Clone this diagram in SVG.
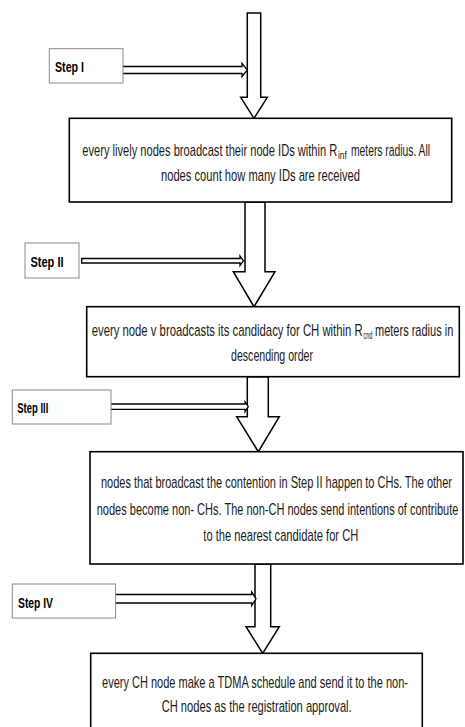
<svg xmlns="http://www.w3.org/2000/svg" width="465" height="727" viewBox="0 0 465 727">
<style>
.box{fill:#fff;stroke:#000;stroke-width:1.6}
.sbox{fill:#fff;stroke:#8a8a8a;stroke-width:1}
.big{fill:#fff;stroke:#000;stroke-width:1.5;stroke-linejoin:miter}
.small{fill:#fff;stroke:#000;stroke-width:1.3}
.t{font-family:"Liberation Sans",Arial,sans-serif;font-size:16px;fill:#1a1a1a}
.s{font-family:"Liberation Sans",Arial,sans-serif;font-size:14px;font-weight:bold;fill:#000}
.sub{font-family:"Liberation Sans",Arial,sans-serif;font-size:10px;fill:#1a1a1a}
</style>
<rect width="465" height="727" fill="#fff"/>
<g id="connectors">
<polygon class="big" points="247.3,13 260.7,13 260.7,97.3 267.3,97.3 254,118.3 240.7,97.3 247.3,97.3"/>
<polygon class="big" points="245,202 265,202 265,271.7 275,271.7 254,306.7 233.3,271.7 245,271.7"/>
<polygon class="big" points="247.3,376.7 268.3,376.7 268.3,416.7 279.3,416.7 258.3,451.7 236.7,416.7 247.3,416.7"/>
<polygon class="big" points="255,564 270.7,564 270.7,626.7 279.3,626.7 262.7,653.3 246,626.7 255,626.7"/>
<polygon class="small" points="86,66.5 242,66.5 242,63.3 247.3,70 242,76.7 242,73.5 86,73.5"/>
<polygon class="small" points="81.7,258.5 240,258.5 240,256 243.5,260.8 240,265.5 240,263 81.7,263"/>
<polygon class="small" points="81.7,404 245,404 245,401.7 248.3,406.7 245,411.7 245,409.3 81.7,409.3"/>
<polygon class="small" points="73.3,594.5 251.7,594.5 251.7,592 256,598.8 251.7,605.5 251.7,603 73.3,603"/>
</g>
<g id="step1">
<rect class="sbox" x="49.3" y="48.7" width="73.7" height="34.3"/>
<text class="s" transform="translate(55,72) scale(0.75,1)" textLength="38.7" lengthAdjust="spacingAndGlyphs">Step I</text>
</g>
<g id="step2">
<rect class="sbox" x="25" y="243" width="54" height="35"/>
<text class="s" transform="translate(30.5,267) scale(0.75,1)" textLength="44" lengthAdjust="spacingAndGlyphs">Step II</text>
</g>
<g id="step3">
<rect class="sbox" x="12.3" y="390" width="98.7" height="34"/>
<text class="s" transform="translate(17.3,413) scale(0.75,1)" textLength="41.3" lengthAdjust="spacingAndGlyphs">Step III</text>
</g>
<g id="step4">
<rect class="sbox" x="12.3" y="584" width="103.3" height="34"/>
<text class="s" transform="translate(18,607.5) scale(0.75,1)" textLength="46.7" lengthAdjust="spacingAndGlyphs">Step IV</text>
</g>
<g id="box1">
<rect class="box" x="69.3" y="118.3" width="382.4" height="83.7"/>
<text class="t" transform="translate(82.3,156) scale(0.7,1)" textLength="364.3" lengthAdjust="spacingAndGlyphs">every lively nodes broadcast their node IDs within R</text>
<text class="sub" transform="translate(338,159) scale(0.7,1)" textLength="12.5" lengthAdjust="spacingAndGlyphs">inf</text>
<text class="t" transform="translate(351,156) scale(0.7,1)" textLength="112.9" lengthAdjust="spacingAndGlyphs">meters radius. All</text>
<text class="t" transform="translate(161,181) scale(0.7,1)" textLength="284.3" lengthAdjust="spacingAndGlyphs">nodes count how many IDs are received</text>
</g>
<g id="box2">
<rect class="box" x="86.7" y="306.7" width="372.6" height="70"/>
<text class="t" transform="translate(91.7,336) scale(0.7,1)" textLength="387.1" lengthAdjust="spacingAndGlyphs">every node v broadcasts its candidacy for CH within R</text>
<text class="sub" transform="translate(363.5,339) scale(0.7,1)" textLength="12.8" lengthAdjust="spacingAndGlyphs">cnd</text>
<text class="t" transform="translate(375,336) scale(0.7,1)" textLength="111.9" lengthAdjust="spacingAndGlyphs">meters radius in</text>
<text class="t" transform="translate(231,360.5) scale(0.7,1)" textLength="117.1" lengthAdjust="spacingAndGlyphs">descending order</text>
</g>
<g id="box3">
<rect class="box" x="90" y="451.7" width="373" height="112.3"/>
<text class="t" transform="translate(101,488) scale(0.7,1)" textLength="501.4" lengthAdjust="spacingAndGlyphs">nodes that broadcast the contention in Step II happen to CHs. The other</text>
<text class="t" transform="translate(96.7,514.5) scale(0.7,1)" textLength="516.6" lengthAdjust="spacingAndGlyphs">nodes become non- CHs. The non-CH nodes send intentions of contribute</text>
<text class="t" transform="translate(203.3,541) scale(0.7,1)" textLength="221.4" lengthAdjust="spacingAndGlyphs">to the nearest candidate for CH</text>
</g>
<g id="box4">
<rect class="box" x="90.7" y="653.3" width="331.6" height="90"/>
<text class="t" transform="translate(102,687.5) scale(0.7,1)" textLength="437.1" lengthAdjust="spacingAndGlyphs">every CH node make a TDMA schedule and send it to the non-</text>
<text class="t" transform="translate(161.7,712) scale(0.7,1)" textLength="271.4" lengthAdjust="spacingAndGlyphs">CH nodes as the registration approval.</text>
</g>
</svg>
